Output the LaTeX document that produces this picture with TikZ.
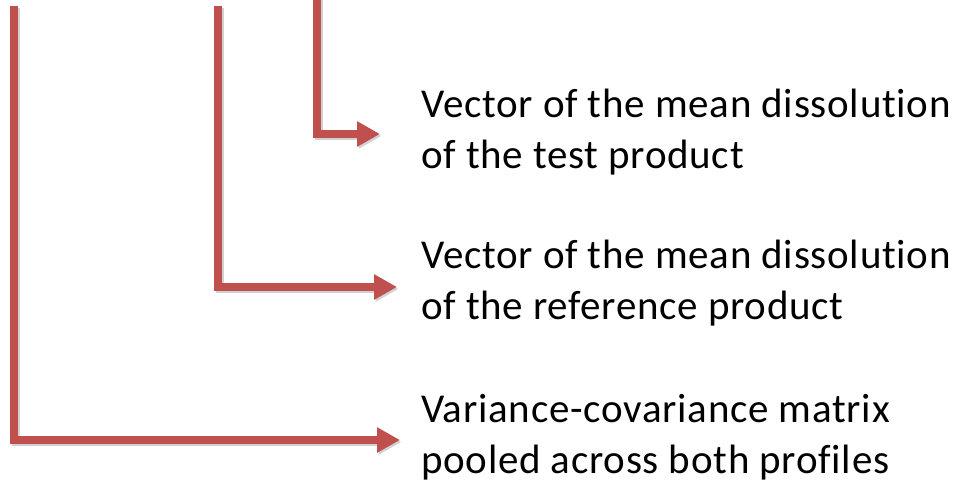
\documentclass[tikz,border=0pt]{standalone}
\usepackage{fontspec}
\setmainfont{Carlito}[Ligatures=NoCommon,LetterSpace=1.8]
\usetikzlibrary{arrows.meta}
\definecolor{arrred}{HTML}{C0504D}
\begin{document}
\begin{tikzpicture}[x=1pt,y=-1pt,
  lbl/.style={anchor=base west,inner sep=0pt,font=\fontsize{41}{51}\selectfont,align=left},
  conn/.style={draw=arrred,line width=8pt,-{Triangle[length=23pt,width=24pt]}},
  shad/.style={draw=black,opacity=0.18,line width=8pt,-{Triangle[length=23pt,width=24pt]}}]
\useasboundingbox (0,0) rectangle (961,491);
% labels (anchored at the baseline of their last line)
\node[lbl] (t1) at (421,168) {Vector of the mean dissolution\\of the test product};
\node[lbl] (t2) at (421,319) {Vector of the mean dissolution\\of the reference product};
\node[lbl] (t3) at (421,473) {Variance-covariance matrix\\pooled across both profiles};
% coordinates
\coordinate (s1) at (14,6);   \coordinate (c1) at (14,440);  \coordinate (e1) at (400,440);
\coordinate (s2) at (218,6);  \coordinate (c2) at (218,287); \coordinate (e2) at (397,287);
\coordinate (s3) at (317,-2); \coordinate (c3) at (317,134); \coordinate (e3) at (380,134);
% shadows
\foreach \a/\b/\c in {s1/c1/e1,s2/c2/e2,s3/c3/e3}
  \draw[shad,transform canvas={shift={(1.5pt,-2pt)}}] (\a) -- (\b) -- (\c);
% connectors
\draw[conn] (s1) -- (c1) -- (e1);
\draw[conn] (s2) -- (c2) -- (e2);
\draw[conn] (s3) -- (c3) -- (e3);
\end{tikzpicture}
\end{document}
